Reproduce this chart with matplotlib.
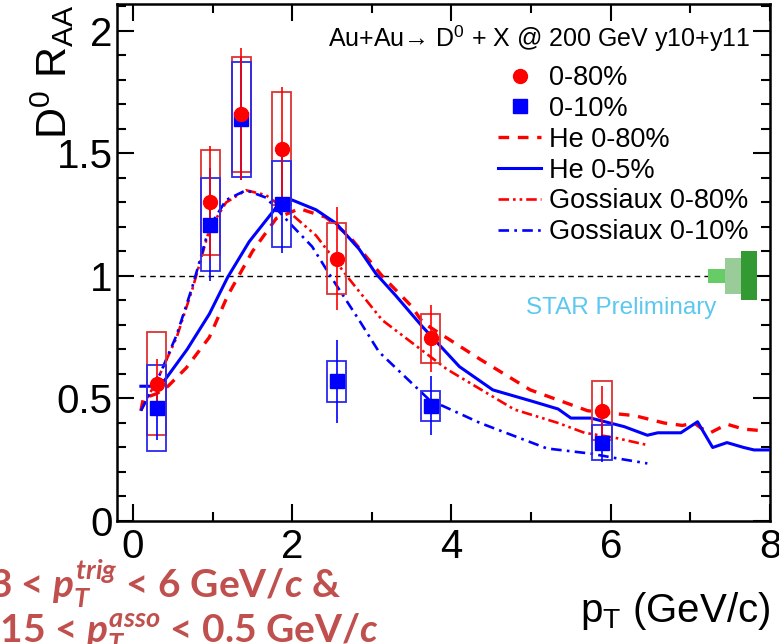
import matplotlib
matplotlib.use("Agg")
import matplotlib.pyplot as plt
from matplotlib.patches import Rectangle
from matplotlib.lines import Line2D
from matplotlib.ticker import MultipleLocator

plt.rcParams['font.family'] = ['Liberation Sans', 'DejaVu Sans']
plt.rcParams['mathtext.fontset'] = 'custom'
plt.rcParams['mathtext.rm'] = 'Liberation Sans'
plt.rcParams['mathtext.it'] = 'Lato:italic:bold'
plt.rcParams['mathtext.bf'] = 'Lato:bold'

# ---------------- data ----------------
pt_080 = [0.30, 0.97, 1.36, 1.87, 2.56, 3.74, 5.89]
raa_080 = [0.56, 1.30, 1.66, 1.52, 1.07, 0.745, 0.45]
stat_080 = [0.10, 0.23, 0.27, 0.25, 0.21, 0.135, 0.10]
sys_080 = [0.21, 0.215, 0.235, 0.23, 0.145, 0.10, 0.12]

pt_010 = [0.30, 0.97, 1.36, 1.87, 2.56, 3.74, 5.89]
raa_010 = [0.46, 1.21, 1.64, 1.295, 0.57, 0.47, 0.32]
stat_010 = [0.13, 0.23, 0.25, 0.20, 0.17, 0.12, 0.08]
sys_010 = [0.175, 0.19, 0.235, 0.175, 0.085, 0.06, 0.07]

he080_x = [0.10, 0.13, 0.30, 0.44, 0.67, 0.96, 1.19, 1.50, 1.80, 2.09, 2.42, 2.71,
           3.13, 3.50, 3.64, 4.36, 4.99, 5.71, 6.00, 6.30, 6.67, 6.90, 7.05, 7.13,
           7.25, 7.46, 7.67, 7.85]
he080_y = [0.45, 0.50, 0.52, 0.55, 0.625, 0.75, 0.92, 1.10, 1.235, 1.275, 1.24, 1.165,
           1.00, 0.876, 0.81, 0.66, 0.535, 0.45, 0.44, 0.43, 0.40, 0.39, 0.40, 0.38,
           0.36, 0.395, 0.375, 0.37]

he05_x = [0.10, 0.24, 0.40, 0.68, 0.96, 1.19, 1.46, 1.80, 2.00, 2.30, 2.55, 2.84,
          3.05, 3.30, 3.63, 4.10, 4.52, 5.00, 5.34, 5.50, 5.75, 6.17, 6.46, 6.59,
          6.88, 7.09, 7.28, 7.46, 7.67, 7.80, 8.00]
he05_y = [0.55, 0.55, 0.575, 0.70, 0.845, 0.995, 1.14, 1.28, 1.31, 1.27, 1.215, 1.11,
          1.01, 0.92, 0.795, 0.63, 0.535, 0.49, 0.457, 0.42, 0.42, 0.385, 0.35, 0.36,
          0.36, 0.405, 0.30, 0.32, 0.30, 0.29, 0.29]

gos080_x = [0.10, 0.34, 0.55, 0.75, 0.96, 1.17, 1.42, 1.67, 2.00, 2.30, 2.71, 3.13,
            3.94, 4.79, 5.34, 5.67, 6.05, 6.46]
gos080_y = [0.45, 0.60, 0.75, 0.95, 1.19, 1.30, 1.35, 1.33, 1.25, 1.165, 0.99, 0.82,
            0.62, 0.455, 0.40, 0.36, 0.34, 0.31]

gos010_x = [0.10, 0.34, 0.55, 0.75, 0.96, 1.17, 1.42, 1.67, 2.00, 2.25, 2.50, 2.84,
            3.09, 3.72, 4.36, 5.20, 5.75, 6.09, 6.46]
gos010_y = [0.45, 0.60, 0.76, 0.96, 1.20, 1.31, 1.35, 1.32, 1.205, 1.12, 0.99, 0.82,
            0.69, 0.495, 0.40, 0.296, 0.275, 0.255, 0.235]

# normalization uncertainty boxes at RAA = 1
norm_x0 = [7.22, 7.43, 7.64]
norm_x1 = [7.43, 7.64, 7.84]
norm_half = [0.028, 0.072, 0.10]

legend_labels = ['0-80%', '0-10%', 'He 0-80%', 'He 0-5%', 'Gossiaux 0-80%', 'Gossiaux 0-10%']

# ---------------- figure ----------------
W, H = 779, 644
fig = plt.figure(figsize=(W / 100, H / 100), dpi=100)
ax = fig.add_axes([117 / W, 1 - 521 / H, 653 / W, 517 / H])
ax.set_xlim(-0.2, 8.0)
ax.set_ylim(0, 2.11)

RED = '#ff0000'
BLUE = '#0000ff'
RBOX = '#dd3333'
BBOX = '#2a2aee'

# reference line
ax.plot([0.09, norm_x0[0]], [1, 1], color='black', lw=1.0, ls=(0, (4, 3)), zorder=1)

# normalization boxes
norm_cols = ['#66cc66', '#99cc99', '#339933']
for x0, x1, h, c in zip(norm_x0, norm_x1, norm_half, norm_cols):
    ax.add_patch(Rectangle((x0, 1 - h), x1 - x0, 2 * h, facecolor=c, edgecolor='none', zorder=2))

# model curves
ls_he080 = (0, (3.2, 2.6))
ls_gos080 = (0, (4, 1.5, 1, 1.5, 1, 1.5))
ls_gos010 = (0, (4, 2, 1, 2))
ax.plot(he080_x, he080_y, color=RED, lw=2.4, ls=ls_he080, zorder=3)
ax.plot(he05_x, he05_y, color=BLUE, lw=2.2, ls='-', zorder=3)
ax.plot(gos080_x, gos080_y, color=RED, lw=1.9, ls=ls_gos080, zorder=3)
ax.plot(gos010_x, gos010_y, color=BLUE, lw=1.9, ls=ls_gos010, zorder=3)

# systematic boxes
bw = 0.12
for x, y, s in zip(pt_080, raa_080, sys_080):
    ax.add_patch(Rectangle((x - bw, y - s), 2 * bw, 2 * s, fill=False, edgecolor=RBOX, lw=1.3, zorder=4))
for x, y, s in zip(pt_010, raa_010, sys_010):
    ax.add_patch(Rectangle((x - bw, y - s), 2 * bw, 2 * s, fill=False, edgecolor=BBOX, lw=1.3, zorder=4))

# stat errors
ax.errorbar(pt_010, raa_010, yerr=stat_010, fmt='none', ecolor=BLUE, elinewidth=1.2, capsize=0, zorder=5)
ax.errorbar(pt_080, raa_080, yerr=stat_080, fmt='none', ecolor=RED, elinewidth=1.2, capsize=0, zorder=5)

# markers
ax.plot(pt_010, raa_010, ls='none', marker='s', ms=9.5, color=BLUE, mec=BLUE, zorder=6)
ax.plot(pt_080, raa_080, ls='none', marker='o', ms=10, color=RED, mec=RED, zorder=7)

# axes style
for sp in ax.spines.values():
    sp.set_linewidth(1.8)
ax.xaxis.set_major_locator(MultipleLocator(2))
ax.xaxis.set_minor_locator(MultipleLocator(1))
ax.yaxis.set_major_locator(MultipleLocator(0.5))
ax.yaxis.set_minor_locator(MultipleLocator(0.1))
ax.tick_params(which='both', direction='in', top=True, right=True, width=1.5, colors='black')
ax.tick_params(which='major', length=12)
ax.tick_params(which='minor', length=6.5)
ax.tick_params(axis='both', which='major', labelsize=29)
ax.tick_params(axis='x', which='major', pad=5)
ax.tick_params(axis='y', which='major', pad=3)
ax.set_xticks([0, 2, 4, 6, 8])
ax.set_xticklabels(['0', '2', '4', '6', '8'])
ax.set_yticks([0, 0.5, 1, 1.5, 2])
ax.set_yticklabels(['0', '0.5', '1', '1.5', '2'])

ax.set_ylabel(r'D$^{0}$ R$_{\mathrm{AA}}$', fontsize=31, loc='top')
ax.yaxis.set_label_coords(-0.062, 1.0)
fig.text(770 / W, 1 - 622 / H, r'p$_{\mathrm{T}}$ (GeV/c)', fontsize=29, ha='right', va='baseline')

# header text
fig.text(328 / W, 1 - 47 / H, 'Au+Au\u2192 D$^{0}$ + X @ 200 GeV y10+y11',
         fontsize=18, ha='left', va='baseline')

# STAR preliminary
ax.text(6.13, 0.87, 'STAR Preliminary', color='#5bc8f0', fontsize=17.5, ha='center', va='center')

# legend
handles = [
    Line2D([], [], ls='none', marker='o', ms=10, color=RED),
    Line2D([], [], ls='none', marker='s', ms=10, color=BLUE),
    Line2D([], [], color=RED, lw=2.4, ls=ls_he080),
    Line2D([], [], color=BLUE, lw=2.2, ls='-'),
    Line2D([], [], color=RED, lw=1.9, ls=ls_gos080),
    Line2D([], [], color=BLUE, lw=1.9, ls=ls_gos010),
]
fig.legend(handles, legend_labels, loc='upper left', bbox_to_anchor=(498 / W, 1 - 65 / H),
           bbox_transform=fig.transFigure, frameon=False, fontsize=19.5, handlelength=1.6,
           handletextpad=0.3, labelspacing=0.18, borderpad=0, borderaxespad=0)

# red annotation bottom-left
txtcol = '#c0504d'
fig.text(-11 / W, 1 - 598 / H,
         r'3 < $\mathit{p}_{\mathit{T}}^{\mathit{trig}}$ < 6 GeV/$\mathit{c}$ &',
         fontsize=28, color=txtcol, family=['Lato', 'DejaVu Sans'], weight='bold',
         ha='left', va='baseline')
fig.text(-32 / W, 1 - 642 / H,
         r'0.15 < $\mathit{p}_{\mathit{T}}^{\mathit{asso}}$ < 0.5 GeV/$\mathit{c}$',
         fontsize=28, color=txtcol, family=['Lato', 'DejaVu Sans'], weight='bold',
         ha='left', va='baseline')

fig.savefig('out.png', dpi=100)
